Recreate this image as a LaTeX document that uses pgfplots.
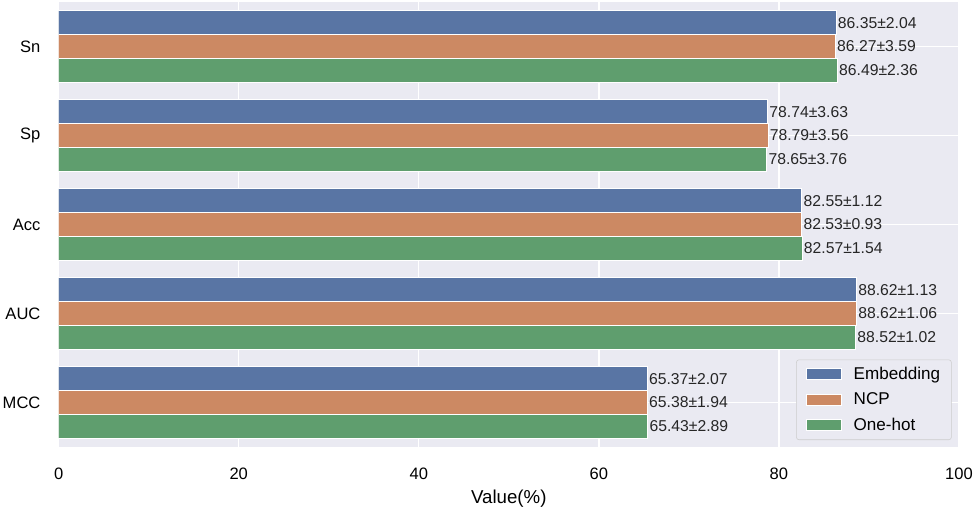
\documentclass[border=0pt]{standalone}
\usepackage{pgfplots}
\pgfplotsset{compat=1.18}
\usepackage{fontspec}
\setmainfont{Liberation Sans}
\definecolor{sbblue}{HTML}{5975A4}
\definecolor{sborange}{HTML}{CC8963}
\definecolor{sbgreen}{HTML}{5F9E6E}
\definecolor{sbbg}{HTML}{EAEAF2}
\definecolor{legframe}{HTML}{CCCCCC}
\begin{document}
\begin{tikzpicture}
\begin{axis}[
  name=ax,
  scale only axis,
  width=675.2pt, height=333.75pt,
  xmin=0, xmax=100,
  ymin=-0.5, ymax=4.5,
  y dir=reverse,
  xbar,
  bar width=0.2667,
  xtick={0,20,40,60,80,100},
  ytick={0,1,2,3,4},
  yticklabels={Sn,Sp,Acc,AUC,MCC},
  /pgf/number format/assume math mode=true,
  major tick length=0pt,
  axis line style={draw=none},
  axis background/.style={fill=sbbg},
  xmajorgrids, ymajorgrids,
  major grid style={white, line width=1pt},
  xticklabel style={font=\fontsize{12.4}{14}\selectfont, inner sep=0pt, anchor=north, yshift=-15.75pt},
  yticklabel style={font=\fontsize{12.4}{14}\selectfont, inner sep=0pt, anchor=east, xshift=-13.5pt},
  xlabel={Value(\%)},
  xlabel style={at={(axis description cs:0.5,0)}, anchor=north, inner sep=0pt, yshift=-32.25pt, font=\fontsize{14}{16}\selectfont},
  point meta=explicit symbolic,
  nodes near coords,
  nodes near coords style={anchor=west, inner sep=0pt, xshift=1pt, font=\fontsize{11.8}{13}\selectfont, text=black!85},
  legend style={at={(rel axis cs:1,0)}, anchor=south east, xshift=-5.5pt, yshift=5.25pt,
    fill=sbbg, draw=legframe, rounded corners=2pt, font=\fontsize{12.8}{14}\selectfont,
    row sep=5.5pt, column sep=7.5pt, inner xsep=7pt, inner ysep=4pt,
    nodes={inner sep=1.5pt}},
  legend cell align=left,
  legend image code/.code={\fill[#1, sharp corners] (0pt,-4.125pt) rectangle (26.25pt,4.125pt);},
]
\addplot[fill=sbblue, draw=white, line width=0.75pt, bar shift=-0.2667] coordinates {
  (86.35,0) [86.35±2.04]
  (78.74,1) [78.74±3.63]
  (82.55,2) [82.55±1.12]
  (88.62,3) [88.62±1.13]
  (65.37,4) [65.37±2.07]
};
\addlegendentry{Embedding}
\addplot[fill=sborange, draw=white, line width=0.75pt, bar shift=0] coordinates {
  (86.27,0) [86.27±3.59]
  (78.79,1) [78.79±3.56]
  (82.53,2) [82.53±0.93]
  (88.62,3) [88.62±1.06]
  (65.38,4) [65.38±1.94]
};
\addlegendentry{NCP}
\addplot[fill=sbgreen, draw=white, line width=0.75pt, bar shift=0.2667] coordinates {
  (86.49,0) [86.49±2.36]
  (78.65,1) [78.65±3.76]
  (82.57,2) [82.57±1.54]
  (88.52,3) [88.52±1.02]
  (65.43,4) [65.43±2.89]
};
\addlegendentry{One-hot}
\end{axis}
\pgfresetboundingbox
\path[use as bounding box] ([shift={(-44pt,-46.5pt)}]ax.south west) rectangle ([shift={(12.75pt,1.5pt)}]ax.north east);
\end{tikzpicture}
\end{document}
